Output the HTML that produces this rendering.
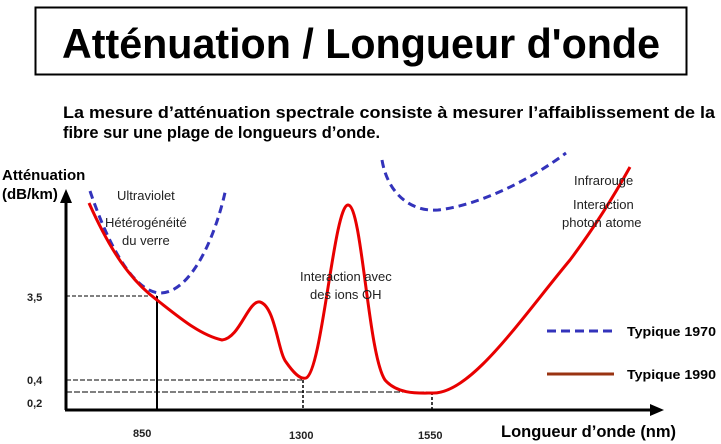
<!DOCTYPE html>
<html><head><meta charset="utf-8"><style>
html,body{margin:0;padding:0;background:#fff;}
svg{display:block;font-family:"Liberation Sans",Arial,sans-serif;}
</style></head><body>
<svg width="721" height="444" viewBox="0 0 721 444">
<rect x="35.5" y="7.5" width="651" height="67" fill="none" stroke="#000" stroke-width="2"/>
<text x="361" y="58" text-anchor="middle" font-size="42" font-weight="bold" textLength="598" lengthAdjust="spacingAndGlyphs">Atténuation / Longueur d'onde</text>
<text x="63" y="118" font-size="17" font-weight="bold" textLength="652" lengthAdjust="spacingAndGlyphs">La mesure d’atténuation spectrale consiste à mesurer l’affaiblissement de la</text>
<text x="63" y="138" font-size="17" font-weight="bold" textLength="317" lengthAdjust="spacingAndGlyphs">fibre sur une plage de longueurs d’onde.</text>
<text x="2" y="180" font-size="15" font-weight="bold">Atténuation</text>
<text x="2" y="199" font-size="15" font-weight="bold">(dB/km)</text>
<g stroke="#000" stroke-width="1">
<line x1="66" y1="296" x2="157" y2="296" stroke-dasharray="4,2"/>
<line x1="157" y1="296" x2="157" y2="410" stroke-width="2"/>
<line x1="66" y1="380" x2="303" y2="380" stroke-dasharray="5,2"/>
<line x1="303" y1="380" x2="303" y2="410" stroke-dasharray="3,2" stroke-width="1.5"/>
<line x1="66" y1="392" x2="432" y2="392" stroke-dasharray="6,2"/>
<line x1="432" y1="392" x2="432" y2="410" stroke-dasharray="3,2" stroke-width="1.5"/>
</g>
<line x1="66" y1="410" x2="66" y2="200" stroke="#000" stroke-width="3"/>
<polygon points="66,189 60,203 72,203" fill="#000"/>
<line x1="65" y1="410" x2="655" y2="410" stroke="#000" stroke-width="3"/>
<polygon points="664,410 650,404 650,416" fill="#000"/>
<g font-size="11" font-weight="bold" fill="#222">
<text x="27" y="301">3,5</text>
<text x="27" y="384">0,4</text>
<text x="27" y="407">0,2</text>
<text x="133" y="437">850</text>
<text x="289" y="439">1300</text>
<text x="418" y="439">1550</text>
</g>
<text x="501" y="437" font-size="16.5" font-weight="bold">Longueur d’onde (nm)</text>
<g fill="none" stroke="#3333bb" stroke-width="3" stroke-dasharray="8,5">
<path d="M90,191 C110,250 135,292 160,293 C190,293 215,240 226,188"/>
<path d="M382,160 C388,195 412,212 438,210 C480,205 530,180 566,153"/>
</g>
<path d="M89,203 C110,250 130,280 157,300 C180,318 200,335 222,340 C240,338 248,300 260,302 C275,306 278,352 286,362 C293,372 300,380 306,378 C322,372 334,205 348,205 C362,205 368,355 385,380 C398,395 420,393 432,393 C470,395 520,320 570,260 C600,220 620,185 630,167" fill="none" stroke="#e80000" stroke-width="3"/>
<g font-size="13" fill="#222">
<text x="117" y="200">Ultraviolet</text>
<text x="105" y="227">Hétérogénéité</text>
<text x="122" y="245">du verre</text>
<text x="300" y="281">Interaction avec</text>
<text x="310" y="299">des ions OH</text>
<text x="574" y="185">Infrarouge</text>
<text x="573" y="209">Interaction</text>
<text x="562" y="227">photon atome</text>
</g>
<line x1="547" y1="331" x2="613" y2="331" stroke="#3333bb" stroke-width="3" stroke-dasharray="9,5"/>
<text x="627" y="336" font-size="13" font-weight="bold" textLength="89" lengthAdjust="spacingAndGlyphs">Typique 1970</text>
<line x1="547" y1="374" x2="614" y2="374" stroke="#993311" stroke-width="3"/>
<text x="627" y="379" font-size="13" font-weight="bold" textLength="89" lengthAdjust="spacingAndGlyphs">Typique 1990</text>
</svg>
</body></html>
